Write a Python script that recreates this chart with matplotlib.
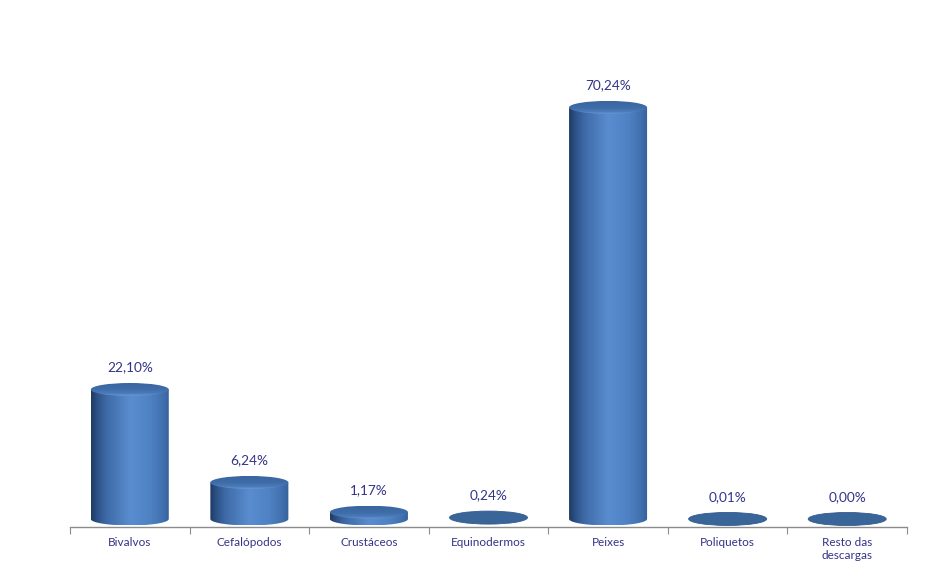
"""Descargas por grupo de espécies - cylinder bar chart."""

import matplotlib

matplotlib.use("Agg")
import matplotlib.pyplot as plt
import numpy as np
from matplotlib.colors import LinearSegmentedColormap
from matplotlib.patches import Ellipse, PathPatch
from matplotlib.path import Path

categories = ["Bivalvos", "Cefalópodos", "Crustáceos", "Equinodermos", "Peixes", "Poliquetos", "Resto das\ndescargas"]
shares = [22.10, 6.24, 1.17, 0.24, 70.24, 0.01, 0.00]
share_labels = ["22,10%", "6,24%", "1,17%", "0,24%", "70,24%", "0,01%", "0,00%"]

TEXT = "#333388"
plt.rcParams["font.family"] = ["Lato", "DejaVu Sans"]

body_cmap = LinearSegmentedColormap.from_list(
    "body",
    [(0.0, "#1f3a60"), (0.08, "#2d5288"), (0.2, "#3f6ba8"), (0.5, "#5a8dd0"),
     (0.75, "#4f82c3"), (0.92, "#416fae"), (1.0, "#35609a")],
)
top_cmap = LinearSegmentedColormap.from_list(
    "top", [(0.0, "#6898d4"), (0.2, "#4a7ab8"), (0.5, "#3e6ca8"), (1.0, "#3a66a0")]
)

fig = plt.figure(figsize=(9.26, 5.83), dpi=100)
ax = fig.add_axes([70 / 926, 56 / 583, 837 / 926, 527 / 583])

px_y = 5.86  # pixels per percent
px_x = 119.57  # pixels per category
hw = 39 / px_x  # half width of the cylinder
eh = 6.5 / px_y  # half height of the ellipses

x = np.arange(len(categories))
for xi, v, lab in zip(x, shares, share_labels):
    if v >= 0.5:
        t = np.linspace(np.pi, 2 * np.pi, 60)
        pts = [(xi - hw, v)] + list(zip(xi + hw * np.cos(t), eh * np.sin(t))) + [(xi + hw, v), (xi - hw, v)]
        clip = PathPatch(Path(pts, closed=True), transform=ax.transData, facecolor="none", edgecolor="none")
        ax.add_patch(clip)
        im = ax.imshow(np.linspace(0, 1, 256)[None, :], cmap=body_cmap, aspect="auto",
                       extent=[xi - hw, xi + hw, -eh, v], interpolation="bilinear", zorder=2)
        im.set_clip_path(clip)
        top = Ellipse((xi, v), 2 * hw, 2 * eh, transform=ax.transData, facecolor="none", edgecolor="none")
        ax.add_patch(top)
        im2 = ax.imshow(np.linspace(0, 1, 64)[:, None], cmap=top_cmap, aspect="auto",
                        extent=[xi - hw, xi + hw, v - eh, v + eh], interpolation="bilinear",
                        origin="lower", zorder=3)
        im2.set_clip_path(top)
    else:
        # very small values: only the lid is visible
        ax.add_patch(Ellipse((xi, v), 2 * hw, 2 * eh, facecolor="#3a6599", edgecolor="#335b8e",
                             linewidth=0.6, zorder=3))
    ax.annotate(lab, (xi, v), xytext=(0, 22), textcoords="offset pixels", ha="center", va="center",
                fontsize=9.8, color=TEXT)

ax.set_xlim(-0.5, len(categories) - 0.5)
ax.set_ylim(-8 / px_y, -8 / px_y + 527 / px_y)

for side in ["top", "right", "left"]:
    ax.spines[side].set_visible(False)
ax.spines["bottom"].set_color("#8c8c8c")
ax.spines["bottom"].set_linewidth(1.0)
ax.set_yticks([])
ax.set_xticks(np.arange(len(categories) + 1) - 0.5)
ax.set_xticklabels([])
ax.tick_params(axis="x", which="major", length=5, color="#8c8c8c", direction="out")
ax.set_xticks(x, minor=True)
ax.set_xticklabels(categories, minor=True, fontsize=8.5, color=TEXT)
ax.tick_params(axis="x", which="minor", length=0, pad=7)

fig.savefig("out.png", dpi=100)
